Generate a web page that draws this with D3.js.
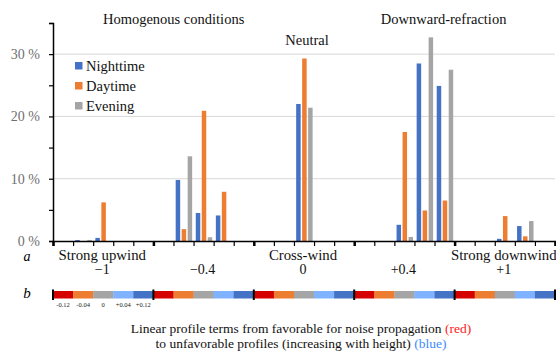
<!DOCTYPE html>
<html>
<head>
<meta charset="utf-8">
<script src="https://cdn.jsdelivr.net/npm/d3@7"></script>
<style>
  html, body { margin: 0; padding: 0; background: #fff; }
  svg { display: block; font-family: "Liberation Serif", "Times New Roman", serif; }
  text { font-family: "Liberation Serif", "Times New Roman", serif; }
</style>
</head>
<body>
<svg id="chart" width="556" height="352"></svg>
<script>
// ---- data ----
const groupValues = ["\u22121", "\u22120.4", "0", "+0.4", "+1"];
const groupNames = ["Strong upwind", "", "Cross-wind", "", "Strong downwind"];
const subTerms = ["-0.12", "-0.04", "0", "+0.04", "+0.12"];
const subColors = ["#d50000", "#ed7d31", "#a5a5a5", "#7fb2ff", "#4472c4"];
const seriesNames = ["Nighttime", "Daytime", "Evening"];
const seriesColors = ["#4472c4", "#ed7d31", "#a5a5a5"];
const nighttime = [0, 0.15, 0.5, 0, 0,   0, 9.8, 4.5, 4.1, 0,   0, 0, 22.0, 0, 0,   0, 0, 2.6, 28.5, 24.9,   0, 0, 0.35, 2.4, 0];
const daytime   = [0, 0, 6.2, 0, 0,      0, 1.9, 20.9, 7.9, 0,  0, 0, 29.3, 0, 0,   0, 0, 17.5, 4.9, 6.5,    0, 0, 4.0, 0.75, 0];
const evening   = [0, 0.15, 0, 0, 0,     0, 13.6, 0.6, 0, 0,    0, 0, 21.4, 0, 0,   0, 0, 0.65, 32.7, 27.5,  0, 0, 0, 3.2, 0];
const yTicks = [0, 5, 10, 15, 20, 25, 30, 35];
const yLabelTicks = [0, 10, 20, 30];
const gridTicks = [10, 20, 30];
const regionTitles = ["Homogenous conditions", "Downward-refraction"];

// ---- build ----
const svg = d3.select("#chart");
const plotLeft = 53, plotRight = 555, plotTop = 23, plotBottom = 241;

const categories = [];
groupValues.forEach((g, gi) => subTerms.forEach((s, si) => categories.push({gi, si, key: gi + "_" + si})));
const allSeries = [nighttime, daytime, evening];

const x0 = d3.scaleBand().domain(categories.map(c => c.key)).range([plotLeft, plotRight]).padding(0);
const bw = x0.bandwidth();
const x1 = d3.scaleBand().domain(seriesNames).range([bw * 0.11, bw * 0.93]).paddingInner(0.25);
const xg = d3.scaleBand().domain(groupValues).range([plotLeft, plotRight]).padding(0);
const xb = d3.scaleLinear().domain([0, categories.length]).range([plotLeft, plotRight]);
const y = d3.scaleLinear().domain([0, 35]).range([plotBottom, plotTop]);

// gridlines
svg.append("g").selectAll("line").data(gridTicks).join("line")
  .attr("x1", plotLeft).attr("x2", plotRight)
  .attr("y1", d => y(d)).attr("y2", d => y(d))
  .attr("stroke", "#d9d9d9").attr("stroke-width", 1);

// bars
const barG = svg.append("g");
categories.forEach((c, ci) => {
  seriesNames.forEach((s, k) => {
    const v = allSeries[k][ci];
    if (v <= 0) return;
    barG.append("rect")
      .attr("x", x0(c.key) + x1(s))
      .attr("width", x1.bandwidth())
      .attr("y", y(v))
      .attr("height", y(0) - y(v))
      .attr("fill", seriesColors[k]);
  });
});

// y axis
const yAxis = svg.append("g").attr("transform", `translate(${plotLeft},0)`)
  .call(d3.axisLeft(y).tickValues(yTicks).tickSize(4).tickPadding(9)
    .tickFormat(d => yLabelTicks.includes(d) ? d + " %" : ""));
yAxis.attr("font-family", null);
yAxis.select(".domain").attr("stroke", "#000").attr("stroke-width", 1.5);
yAxis.selectAll(".tick line").attr("stroke", "#000").attr("stroke-width", 1.2);
yAxis.selectAll(".tick text").attr("fill", "#6f6f6f").attr("font-size", 14);

// x axis (boundary ticks)
const xAxis = svg.append("g").attr("transform", `translate(0,${plotBottom})`)
  .call(d3.axisBottom(xb).tickValues(d3.range(0, categories.length + 1)).tickSize(5).tickFormat(""));
xAxis.select(".domain").attr("stroke", "#000").attr("stroke-width", 1.5);
xAxis.selectAll(".tick line").attr("stroke", "#000")
  .attr("stroke-width", d => d % subTerms.length === 0 ? 2.5 : 1.2);

// region titles
const titleX = [
  (xg(groupValues[0]) + xg(groupValues[2]) + xg.bandwidth()) / 2 - 30,
  (xg(groupValues[3]) + xg(groupValues[4]) + xg.bandwidth()) / 2 - 11
];
svg.append("g").selectAll("text").data(regionTitles).join("text")
  .attr("x", (d, i) => titleX[i])
  .attr("y", 24).attr("text-anchor", "middle").attr("font-size", 14.5).attr("fill", "#111")
  .text(d => d);
svg.append("text").attr("x", xg(groupValues[2]) + xg.bandwidth() / 2 + 3).attr("y", 44.5)
  .attr("text-anchor", "middle").attr("font-size", 14.5).attr("fill", "#111").text("Neutral");

// legend
const leg = svg.append("g").attr("transform", "translate(75,62)");
seriesNames.forEach((s, k) => {
  leg.append("rect").attr("x", 0).attr("y", k * 20).attr("width", 7.5).attr("height", 7.5).attr("fill", seriesColors[k]);
  leg.append("text").attr("x", 11).attr("y", k * 20 + 8.5).attr("font-size", 14.5).attr("fill", "#111").text(s);
});

// row a labels
svg.append("text").attr("x", 27).attr("y", 261).attr("text-anchor", "middle")
  .attr("font-style", "italic").attr("font-size", 14).text("a");
svg.append("g").selectAll("text").data(groupValues).join("text")
  .attr("x", d => xg(d) + xg.bandwidth() / 2 - 1).attr("y", 259.5).attr("text-anchor", "middle")
  .attr("font-size", 14.8).attr("fill", "#111").text((d, i) => groupNames[i]);
svg.append("g").selectAll("text").data(groupValues).join("text")
  .attr("x", d => xg(d) + xg.bandwidth() / 2 - 1).attr("y", 274).attr("text-anchor", "middle")
  .attr("font-size", 14).attr("fill", "#111").text(d => d);

// row b colour bar
svg.append("text").attr("x", 27).attr("y", 298).attr("text-anchor", "middle")
  .attr("font-style", "italic").attr("font-size", 15).text("b");
svg.append("g").selectAll("rect").data(categories).join("rect")
  .attr("x", d => x0(d.key)).attr("width", bw + 0.3)
  .attr("y", 291).attr("height", 7.5)
  .attr("fill", d => subColors[d.si]);
svg.append("g").selectAll("line").data(d3.range(0, groupValues.length + 1)).join("line")
  .attr("x1", d => xb(d * subTerms.length)).attr("x2", d => xb(d * subTerms.length))
  .attr("y1", 289.5).attr("y2", 300)
  .attr("stroke", "#000").attr("stroke-width", 2);
svg.append("g").selectAll("text").data(subTerms).join("text")
  .attr("x", (d, i) => x0(categories[i].key) + bw / 2).attr("y", 307)
  .attr("text-anchor", "middle").attr("font-size", 6.5).attr("fill", "#222").text(d => d);

// bottom caption
const cap = svg.append("text").attr("text-anchor", "middle").attr("font-size", 13.5).attr("fill", "#111")
  .attr("x", 301).attr("y", 333);
cap.append("tspan").text("Linear profile terms from favorable for noise propagation ");
cap.append("tspan").attr("fill", "#ff1a1a").text("(red)");
const cap2 = svg.append("text").attr("text-anchor", "middle").attr("font-size", 13.5).attr("fill", "#111")
  .attr("x", 301).attr("y", 347.5);
cap2.append("tspan").text("to unfavorable profiles (increasing with height) ");
cap2.append("tspan").attr("fill", "#3d8bff").text("(blue)");
</script>
</body>
</html>
